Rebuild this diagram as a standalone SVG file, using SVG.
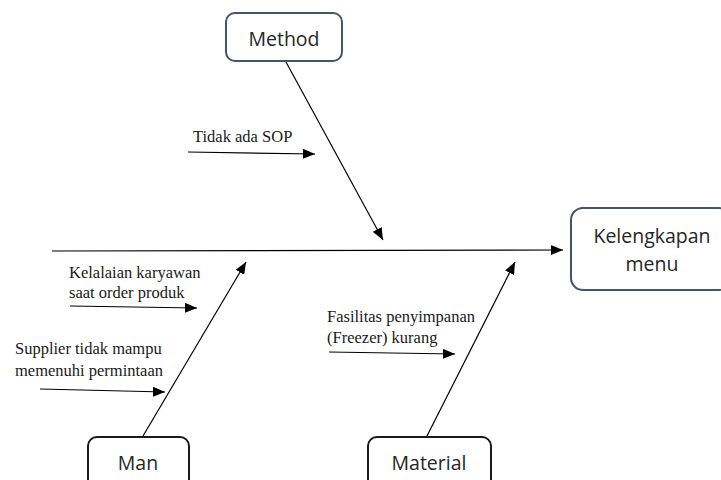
<svg xmlns="http://www.w3.org/2000/svg" width="721" height="480" viewBox="0 0 721 480">
<defs>
<marker id="ah" viewBox="0 0 12 10" refX="12" refY="5" markerWidth="12" markerHeight="10" markerUnits="userSpaceOnUse" orient="auto">
<path d="M0,0 L12,5 L0,10 Z" fill="#000"/>
</marker>
</defs>
<style>
.box{fill:#fff;stroke-width:2}
.blue{stroke:#44546a}
.dark{stroke:#1a1a1a}
.lbl{font-family:"Open Sans","Liberation Sans",sans-serif;font-size:19.5px;fill:#262626;text-anchor:middle}
.cause{font-family:"Liberation Serif","Times New Roman",serif;font-size:16.5px;fill:#1a1a1a}
.ln{stroke:#000;stroke-width:1.2;fill:none;marker-end:url(#ah)}
</style>
<rect width="721" height="480" fill="#fff"/>
<g id="connectors">
<line class="ln" x1="52" y1="251" x2="563" y2="250"/>
<line class="ln" x1="286" y1="62" x2="383" y2="240"/>
<line class="ln" x1="143" y1="436" x2="246" y2="262"/>
<line class="ln" x1="427" y1="436" x2="515" y2="262"/>
<line class="ln" x1="188" y1="152" x2="315" y2="154"/>
<line class="ln" x1="70" y1="306" x2="197" y2="308"/>
<line class="ln" x1="40" y1="389" x2="165" y2="392"/>
<line class="ln" x1="329" y1="352" x2="455" y2="354"/>
</g>
<g id="method">
<rect class="box blue" x="226" y="13" width="116" height="48" rx="9"/>
<text class="lbl" x="284" y="46">Method</text>
</g>
<g id="effect">
<rect class="box blue" x="571" y="208" width="160" height="82" rx="12"/>
<text class="lbl" x="652" y="243">Kelengkapan</text>
<text class="lbl" x="652" y="271">menu</text>
</g>
<g id="man">
<rect class="box dark" x="88" y="437" width="101" height="60" rx="9"/>
<text class="lbl" x="138" y="470">Man</text>
</g>
<g id="material">
<rect class="box dark" x="368" y="437" width="123" height="60" rx="9"/>
<text class="lbl" x="429" y="470">Material</text>
</g>
<g id="cause-sop">
<text class="cause" x="193" y="142">Tidak ada SOP</text>
</g>
<g id="cause-kelalaian">
<text class="cause" x="69" y="278">Kelalaian karyawan</text>
<text class="cause" x="69" y="298">saat order produk</text>
</g>
<g id="cause-supplier">
<text class="cause" x="15" y="354">Supplier tidak mampu</text>
<text class="cause" x="15" y="376">memenuhi permintaan</text>
</g>
<g id="cause-fasilitas">
<text class="cause" x="327" y="322">Fasilitas penyimpanan</text>
<text class="cause" x="327" y="343">(Freezer) kurang</text>
</g>
</svg>
